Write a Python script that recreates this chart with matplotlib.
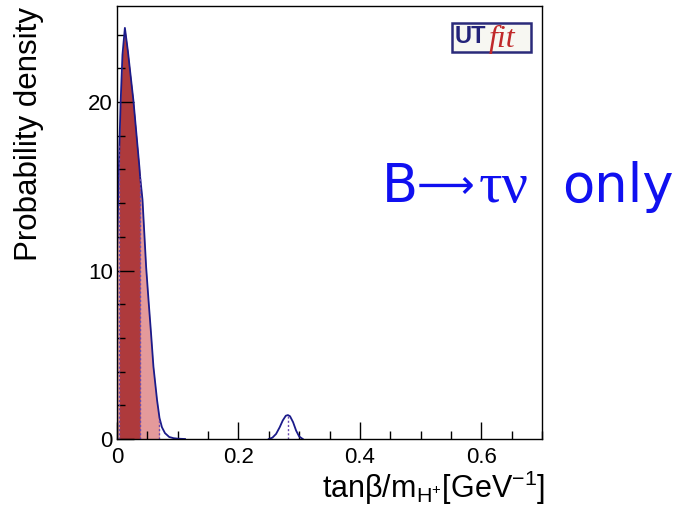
import numpy as np
import matplotlib.pyplot as plt
from matplotlib.ticker import MultipleLocator
from matplotlib.patches import Rectangle

plt.rcParams['font.family'] = ['Liberation Sans', 'DejaVu Sans']

# main peak (x in GeV^-1, density)
x_main = [0.0, 0.002, 0.004, 0.006, 0.009, 0.013, 0.018, 0.022, 0.027, 0.032, 0.037,
          0.038, 0.042, 0.045, 0.048, 0.052, 0.056, 0.060, 0.066, 0.070, 0.074,
          0.079, 0.086, 0.093, 0.100, 0.106, 0.112]
y_main = [11.0, 14.5, 17.5, 20.0, 22.8, 24.4, 23.0, 21.7, 20.1, 18.1, 16.1,
          15.6, 14.2, 12.2, 10.2, 8.2, 6.3, 4.3, 2.3, 1.25, 0.7,
          0.35, 0.12, 0.05, 0.02, 0.01, 0.0]
# secondary bump
x_bump = [0.250, 0.256, 0.262, 0.268, 0.273, 0.278, 0.2815, 0.285, 0.290, 0.295, 0.300, 0.306]
y_bump = [0.0, 0.08, 0.3, 0.7, 1.1, 1.38, 1.42, 1.35, 1.0, 0.5, 0.15, 0.0]

# probability intervals
dark_lo, dark_hi = 0.004, 0.038
light_lo, light_hi = 0.0, 0.070
bump_mark = 0.2815

fig = plt.figure(figsize=(6.81, 5.18), dpi=100)
ax = fig.add_axes([0.1718, 0.1525, 0.6241, 0.836])

xm = np.array(x_main); ym = np.array(y_main)
dark_col = '#AE3A3C'
light_col = '#E49A9B'
line_col = '#1B1B8A'

ax.fill_between(xm, 0, ym, where=(xm >= light_lo) & (xm <= light_hi), color=light_col, lw=0)
ax.fill_between(xm, 0, ym, where=(xm >= dark_lo) & (xm <= dark_hi), color=dark_col, lw=0)
ax.plot(xm, ym, color=line_col, lw=1.3)
ax.plot(x_bump, y_bump, color=line_col, lw=1.3)

for xv, top in [(dark_lo, np.interp(dark_lo, xm, ym)), (dark_hi, np.interp(dark_hi, xm, ym)),
                (light_hi, np.interp(light_hi, xm, ym)), (bump_mark, max(y_bump))]:
    ax.plot([xv, xv], [0, top], color='#6A4BB0', lw=1.0, ls=(0, (1.5, 1.5)))

ax.set_xlim(0, 0.7)
ax.set_ylim(0, 25.7)
ax.xaxis.set_minor_locator(MultipleLocator(0.05))
ax.yaxis.set_minor_locator(MultipleLocator(2))
ax.set_xticks([0, 0.2, 0.4, 0.6])
ax.set_xticklabels(['0', '0.2', '0.4', '0.6'])
ax.set_yticks([0, 10, 20])
ax.set_yticklabels(['0', '10', '20'])
ax.tick_params(which='both', direction='in', top=False, right=False, labelsize=16, width=1)
ax.tick_params(which='major', length=12)
ax.tick_params(which='minor', length=6)
ax.tick_params(axis='x', pad=6)
ax.tick_params(axis='y', pad=3)
for s in ax.spines.values():
    s.set_linewidth(1)

fig.text(0.043, 0.987, 'Probability density', rotation=90, ha='center', va='top', fontsize=22.5)
fig.text(0.80, 0.038, 'tanβ/m$_{\\mathregular{H^{+}}}$[GeV$^{\\mathregular{-1}}$]', ha='right',
         va='baseline', fontsize=22)

# B -> tau nu only label, built from pieces
blue = '#1010F0'
ybase = 1 - 202 / 518
fig.text(382 / 681, ybase, 'B', color=blue, fontsize=38, family='DejaVu Sans', ha='left', va='baseline')
fig.text(417 / 681, ybase + 4 / 518, '\u27f6', color=blue, fontsize=29, family='DejaVu Sans',
         ha='left', va='baseline')
fig.text(479 / 681, ybase, 'τν', color=blue, fontsize=42, family='Liberation Serif', ha='left', va='baseline')
fig.text(562 / 681, ybase, 'only', color=blue, fontsize=38, family='DejaVu Sans', ha='left', va='baseline')

# logo
box = Rectangle((452 / 681, 1 - 52 / 518), 79 / 681, 29 / 518, transform=fig.transFigure,
                fc='#F7F7F2', ec='#2A2A7A', lw=1.8)
fig.add_artist(box)
fig.text(455 / 681, 1 - 43 / 518, 'UT', color='#23237A', fontsize=17, fontweight='bold',
         ha='left', va='baseline', family='Liberation Sans')
fig.text(489 / 681, 1 - 47 / 518, 'fit', color='#C0282A', fontsize=23, style='italic',
         family='Liberation Serif', ha='left', va='baseline')

fig.savefig('out.png', dpi=100)
